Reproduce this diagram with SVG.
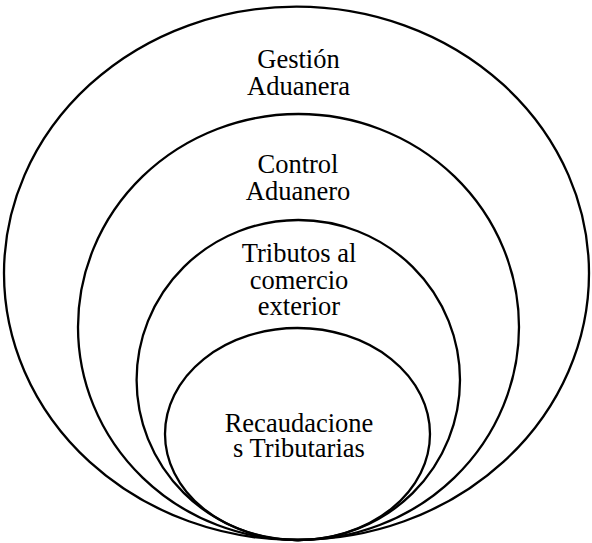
<svg xmlns="http://www.w3.org/2000/svg" width="592" height="543" viewBox="0 0 592 543">
<style>
.e{fill:none;stroke:#000;stroke-width:2.3}
text{font-family:"Liberation Serif","Times New Roman",serif;font-size:26.5px;text-anchor:middle;fill:#000}
</style>
<rect width="592" height="543" fill="#fff"/>
<g id="gestion">
<ellipse class="e" cx="296.5" cy="273.3" rx="292.5" ry="266.7"/>
<text x="298.5" y="67.5">Gestión</text>
<text x="298.5" y="95">Aduanera</text>
</g>
<g id="control">
<ellipse class="e" cx="298.5" cy="327" rx="220.5" ry="213"/>
<text x="298" y="172.5">Control</text>
<text x="298" y="199.5">Aduanero</text>
</g>
<g id="tributos">
<ellipse class="e" cx="298.3" cy="380" rx="161.7" ry="160"/>
<text x="299" y="262">Tributos al</text>
<text x="299" y="288.5">comercio</text>
<text x="299" y="315">exterior</text>
</g>
<g id="recaudaciones">
<ellipse class="e" cx="297.5" cy="434" rx="132.5" ry="106"/>
<text x="299" y="431.5">Recaudacione</text>
<text x="299" y="457">s Tributarias</text>
</g>
<g id="connectors"/>
</svg>
